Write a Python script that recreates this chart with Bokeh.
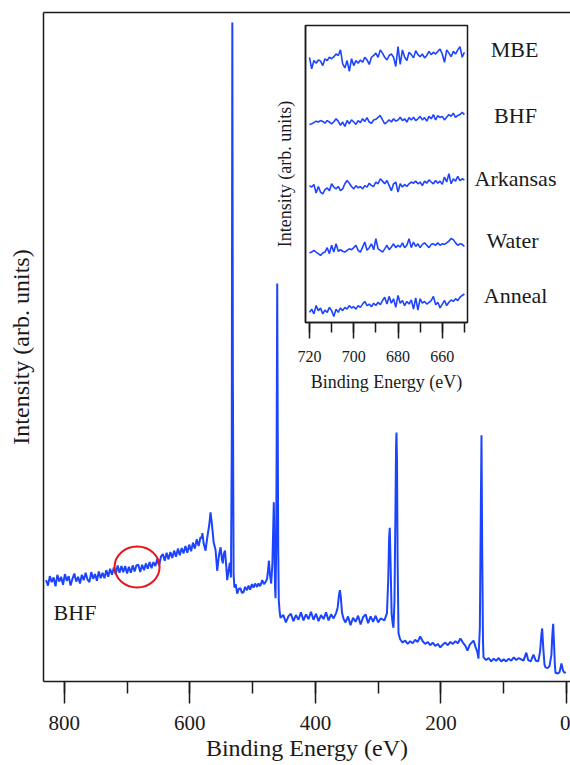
from bokeh.plotting import figure
from bokeh.models import Range1d, LinearAxis, FixedTicker, SingleIntervalTicker, GridBox
from bokeh.core.properties import value
from bokeh.embed import file_html
from bokeh.resources import INLINE

# ---------------- data: survey spectrum (binding energy eV, intensity arb.) ----------------
BE_MAIN = [
    829, 826, 823, 820, 817, 814, 811, 808, 805, 802, 799, 796, 793, 790, 787, 784, 781, 778, 775, 772,
    769, 766, 763, 760, 757, 754, 751, 748, 745, 742, 739, 736, 733, 730, 727, 724, 721, 718, 715, 712,
    709, 706, 703, 700, 697, 694, 691, 688, 685, 682, 679, 676, 673, 670, 667, 664, 661, 658, 655, 652,
    649, 646, 643, 640, 637, 634, 631, 628, 625, 622, 619, 616, 613, 610, 607, 604, 601, 598, 595, 592,
    589, 586, 583, 581, 580, 578, 575, 572, 569, 567, 565, 562, 559, 556.4, 553.5, 551, 549, 547.5, 546,
    544, 542, 540.5, 538.5, 536.3, 534.5, 533.2, 532.3, 531.4, 530.3, 529, 527, 524.5, 522, 519.3, 517,
    514.5, 512, 509, 506.5, 504, 501, 498.6, 496, 493, 490.6, 488, 484.7, 482, 479.5, 477, 475.5, 474,
    472.5, 470.4, 468.5, 467, 466.2, 465.2, 464.3, 463.5, 462.4, 461.5, 460.8, 460.0, 459.2, 458.3, 457,
    455.6, 451, 447, 443, 439, 435, 431, 427, 423, 419, 415, 411, 407, 403, 399, 395, 391, 387, 383, 379,
    375, 371, 367, 364.5, 362.5, 361, 359.5, 357.5, 355, 352, 348, 344, 340, 336, 332, 328, 324, 320, 316,
    312, 308, 304, 300, 296, 290, 286, 284, 282.5, 281.5, 280.3, 278.5, 276.8, 275.6, 274, 272.5, 271.5,
    270.8, 270, 269, 267.6, 265, 261, 257, 253, 249, 245, 241, 237, 233, 229, 225, 221, 217, 213, 209, 205,
    201, 197, 193, 189, 185, 181, 177, 173, 169, 165, 161, 157.7, 154, 150, 148, 145, 142, 140.2, 138,
    136.5, 135.4, 134.3, 133, 132.2, 128, 124, 120, 116, 112, 108, 104, 100, 96, 92, 88, 84, 80, 76, 72,
    68.5, 64, 61, 57, 52.6, 49, 45, 42, 40, 38.7, 37, 35, 33.4, 30, 27, 24, 22.5, 21.2, 20, 18.5, 17.5, 14,
    11, 8, 5.5, 3.2, 1,
]
I_MAIN = [
    15.1, 14.3, 15.7, 14.8, 15.5, 14.2, 15.9, 14.9, 15.6, 14.4, 16.0, 15.0, 15.7, 14.3, 15.3, 16.1, 14.9, 15.6, 14.6, 15.9,
    15.1, 16.2, 15.2, 14.8, 16.3, 15.3, 16.0, 15.0, 16.4, 15.4, 16.2, 15.4, 16.6, 15.6, 16.8, 15.9, 17.0, 16.0, 17.3, 16.2,
    17.2, 16.3, 17.2, 16.1, 17.1, 16.2, 17.3, 16.4, 17.3, 17.4, 16.3, 17.4, 16.6, 17.6, 16.8, 17.8, 16.9, 17.8, 17.2, 18.2,
    17.3, 18.6, 19.0, 18.0, 19.2, 18.2, 19.3, 18.4, 19.5, 18.6, 19.8, 18.8, 19.9, 19.1, 20.2, 19.2, 20.4, 19.4, 20.7, 19.8,
    21.2, 20.2, 21.5, 21.4, 22.1, 20.6, 19.5, 21.6, 23.4, 25.2, 23.6, 20.7, 19.6, 16.5, 18.9, 20.0, 18.3, 17.6, 19.0,
    19.5, 17.2, 15.1, 16.4, 17.7, 15.5, 35.0, 98.2, 45.0, 16.0, 14.0, 14.5, 13.1, 13.8, 13.9, 13.2,
    13.3, 14.1, 13.6, 14.3, 13.7, 14.5, 14.0, 14.6, 14.1, 14.6, 14.2, 15.1, 14.5, 14.8, 15.3, 16.5, 18.0,
    16.0, 14.6, 17.5, 23.5, 26.7, 20.0, 14.0, 12.4, 20.0, 40.0, 59.3, 38.0, 20.0, 12.1, 10.5,
    9.5, 9.9, 8.8, 9.7, 10.1, 9.0, 9.9, 9.2, 10.3, 9.1, 10.0, 9.3, 10.4, 9.2, 10.1, 9.0, 9.9, 9.3, 10.3, 9.1,
    10.0, 9.4, 10.2, 11.0, 12.8, 13.6, 12.6, 10.2, 9.3, 8.8, 9.7, 8.4, 9.5, 8.9, 9.8, 8.5, 9.6, 10.0, 8.7,
    9.7, 8.9, 9.8, 8.8, 9.4, 9.1, 10.2, 15.0, 21.5, 22.9, 18.0, 10.0, 8.6, 8.0, 12.0, 25.0, 35.0,
    37.1, 33.0, 18.0, 7.2, 6.3, 5.8, 6.1, 5.6, 6.0, 5.7, 6.2, 5.9, 6.7, 6.0, 5.6, 5.9, 5.4, 5.8, 5.3, 5.6,
    5.1, 5.5, 5.8, 5.4, 5.9, 5.6, 6.0, 5.7, 6.4, 5.8, 5.3, 4.6, 5.5, 5.9, 6.1, 5.2, 4.4, 3.4, 8.0,
    25.0, 36.7, 20.0, 6.0, 3.6, 3.2, 3.5, 3.0, 3.4, 3.1, 3.5, 3.0, 3.3, 3.0, 3.4, 3.1, 3.6, 3.2, 3.5, 3.3,
    3.1, 4.3, 3.2, 3.0, 4.0, 3.1, 3.0, 4.5, 7.0, 7.9, 5.0, 2.5, 2.1, 2.0, 2.3, 4.0, 7.0, 8.6, 6.0, 2.5, 1.3, 1.2,
    1.4, 2.7, 1.6, 1.3, 1.4,
]

# ---------------- data: inset (720-650 eV window, five samples, offset) ----------------
BE_INSET = [720 - k for k in range(71)]
MBE = [
    8.93, 8.54, 8.82, 8.73, 8.84, 8.80, 8.65, 8.88, 8.82, 8.93, 8.88, 8.95, 9.04, 8.99, 9.18, 8.71, 8.57, 8.82,
    8.46, 8.88, 8.65, 8.82, 8.73, 8.84, 8.76, 8.93, 8.84, 8.69, 8.93, 8.99, 9.07, 8.93, 9.18, 9.07, 8.93, 8.84,
    8.99, 9.04, 8.93, 8.62, 9.29, 8.69, 9.18, 8.93, 8.82, 9.10, 9.02, 8.91, 9.15, 9.02, 8.95, 9.04, 8.91, 8.99,
    9.13, 9.02, 9.10, 9.04, 9.13, 9.21, 9.04, 8.76, 9.18, 9.07, 8.95, 9.13, 9.04, 9.18, 9.29, 8.93, 9.10,
]
BHF = [
    6.67, 6.69, 6.73, 6.78, 6.75, 6.80, 6.77, 6.71, 6.80, 6.75, 6.69, 6.76, 6.86, 6.78, 6.64, 6.75, 6.60, 6.80,
    6.69, 6.82, 6.75, 6.67, 6.80, 6.73, 6.86, 6.77, 6.90, 6.75, 6.71, 6.82, 6.84, 6.91, 6.97, 6.82, 6.69, 6.75,
    6.82, 6.75, 6.86, 6.78, 6.82, 6.91, 6.80, 6.86, 6.75, 6.90, 6.82, 6.91, 6.80, 6.86, 6.94, 6.82, 6.90, 6.78,
    6.94, 6.86, 7.00, 6.82, 6.97, 6.90, 6.94, 6.82, 6.91, 7.00, 6.94, 7.05, 6.91, 6.97, 7.00, 7.08, 7.00,
]
ARKANSAS = [
    4.61, 4.56, 4.65, 4.36, 4.58, 4.39, 4.33, 4.47, 4.53, 4.44, 4.67, 4.56, 4.50, 4.58, 4.44, 4.50, 4.67, 4.78,
    4.69, 4.58, 4.50, 4.61, 4.53, 4.58, 4.50, 4.61, 4.56, 4.69, 4.61, 4.58, 4.73, 4.67, 4.84, 4.76, 4.67, 4.78,
    4.61, 4.44, 4.67, 4.73, 4.39, 4.67, 4.56, 4.65, 4.58, 4.67, 4.73, 4.69, 4.76, 4.67, 4.73, 4.61, 4.76, 4.69,
    4.80, 4.73, 4.67, 4.78, 4.69, 4.76, 4.65, 4.90, 4.73, 5.01, 4.67, 4.84, 4.76, 4.92, 4.78, 4.84, 4.80,
]
WATER = [
    2.34, 2.37, 2.43, 2.37, 2.32, 2.26, 2.34, 2.37, 2.52, 2.32, 2.60, 2.37, 2.65, 2.40, 2.45, 2.40, 2.37, 2.43,
    2.48, 2.45, 2.52, 2.60, 2.43, 2.37, 2.54, 2.71, 2.43, 2.52, 2.65, 2.45, 2.82, 2.48, 2.43, 2.37, 2.48, 2.60,
    2.45, 2.54, 2.65, 2.52, 2.60, 2.54, 2.68, 2.52, 2.60, 2.82, 2.52, 2.71, 2.56, 2.65, 2.52, 2.63, 2.68, 2.60,
    2.52, 2.63, 2.65, 2.60, 2.68, 2.60, 2.65, 2.63, 2.68, 2.74, 2.83, 2.79, 2.68, 2.60, 2.65, 2.63, 2.56,
]
ANNEAL = [
    0.34, 0.45, 0.29, 0.57, 0.40, 0.49, 0.29, 0.42, 0.34, 0.51, 0.40, 0.20, 0.45, 0.34, 0.49, 0.40, 0.51, 0.45,
    0.57, 0.49, 0.53, 0.45, 0.57, 0.51, 0.62, 0.71, 0.57, 0.62, 0.53, 0.65, 0.57, 0.68, 0.60, 0.74, 0.85, 0.62,
    0.88, 0.65, 0.80, 0.51, 0.91, 0.65, 0.74, 0.57, 0.71, 0.62, 0.76, 0.45, 0.83, 0.42, 0.80, 0.65, 0.71, 0.62,
    0.68, 0.74, 0.88, 0.60, 0.68, 0.49, 0.62, 0.74, 0.57, 0.68, 0.76, 0.71, 0.80, 0.74, 0.85, 0.91, 0.96,
]
INSET_SERIES = [MBE, BHF, ARKANSAS, WATER, ANNEAL]

# sample names (placed beside the inset, in main-plot data coordinates)
SAMPLE_LABELS = ["MBE", "BHF", "Arkansas", "Water", "Anneal"]
SAMPLE_LABEL_BE = [82.8, 81.2, 81.2, 86.0, 81.2]
SAMPLE_LABEL_I = [94.2, 84.4, 75.0, 65.7, 57.5]

# annotations
MAIN_NOTE = "BHF"
MAIN_NOTE_BE, MAIN_NOTE_I = 817.0, 10.3
CIRCLE_BE, CIRCLE_I = 684.0, 17.06

FONT = "Liberation Serif"
BLUE = "#1c44ff"
INK = "#1a1a1a"

# ---------------- main figure ----------------
p = figure(width=570, height=765, x_range=Range1d(833.1, -6.4), y_range=Range1d(0, 99.7),
           output_backend="svg", toolbar_location=None,
           min_border_left=43, min_border_right=0, min_border_top=12, min_border_bottom=84)
p.outline_line_color = None
p.grid.visible = False
p.background_fill_color = "white"

p.xaxis.ticker = SingleIntervalTicker(interval=200, num_minor_ticks=2)
p.xaxis.axis_label = "Binding Energy (eV)"
for ax in p.xaxis:
    ax.major_tick_out = 22
    ax.major_tick_in = 0
    ax.minor_tick_out = 12
    ax.minor_tick_in = 0
    ax.axis_line_width = 1.5
    ax.major_tick_line_width = 1.5
    ax.minor_tick_line_width = 1.5
    ax.axis_line_color = INK
    ax.major_tick_line_color = INK
    ax.minor_tick_line_color = INK
    ax.major_label_text_font = FONT
    ax.major_label_text_font_size = "21px"
    ax.major_label_text_color = INK
    ax.major_label_standoff = 12
    ax.axis_label_text_font = FONT
    ax.axis_label_text_font_size = "24px"
    ax.axis_label_text_font_style = "normal"
    ax.axis_label_text_color = INK
    ax.axis_label_standoff = 2

p.yaxis.ticker = FixedTicker(ticks=[])
p.yaxis.axis_label = "Intensity (arb. units)"
for ax in p.yaxis:
    ax.major_tick_out = 0
    ax.minor_tick_out = 0
    ax.major_label_text_font_size = "0px"
    ax.axis_line_width = 1.5
    ax.axis_line_color = INK
    ax.axis_label_text_font = FONT
    ax.axis_label_text_font_size = "24px"
    ax.axis_label_text_font_style = "normal"
    ax.axis_label_text_color = INK
    ax.axis_label_standoff = 10

top_axis = LinearAxis(ticker=FixedTicker(ticks=[]), major_tick_out=0, minor_tick_out=0,
                      major_label_text_font_size="0px", axis_line_width=1.5, axis_line_color=INK)
p.add_layout(top_axis, "above")

p.line(BE_MAIN, I_MAIN, line_color=BLUE, line_width=2)

p.ellipse(x=[CIRCLE_BE], y=[CIRCLE_I], width=45, height=41, width_units="screen", height_units="screen",
          fill_color=None, line_color="#e8141b", line_width=2)

p.text(x=[MAIN_NOTE_BE], y=[MAIN_NOTE_I], text=[MAIN_NOTE], text_font=value(FONT), text_font_size="22px",
       text_align="left", text_baseline="middle", text_color=INK)
p.text(x=SAMPLE_LABEL_BE, y=SAMPLE_LABEL_I, text=SAMPLE_LABELS, text_font=value(FONT), text_font_size="22px",
       text_align="center", text_baseline="middle", text_color=INK)

# ---------------- inset figure ----------------
q = figure(width=207, height=382, x_range=Range1d(721.8, 648.6), y_range=Range1d(0, 10),
           output_backend="svg", toolbar_location=None,
           min_border_left=40, min_border_right=5, min_border_top=5, min_border_bottom=80)
q.background_fill_color = None
q.border_fill_color = None
q.outline_line_color = INK
q.outline_line_width = 1.5
q.grid.visible = False

q.xaxis.ticker = SingleIntervalTicker(interval=20, num_minor_ticks=2)
q.xaxis.axis_label = "Binding Energy (eV)"
for ax in q.xaxis:
    ax.major_tick_out = 16
    ax.major_tick_in = 0
    ax.minor_tick_out = 10
    ax.minor_tick_in = 0
    ax.axis_line_width = 1.5
    ax.major_tick_line_width = 1.5
    ax.minor_tick_line_width = 1.5
    ax.axis_line_color = INK
    ax.major_tick_line_color = INK
    ax.minor_tick_line_color = INK
    ax.major_label_text_font = FONT
    ax.major_label_text_font_size = "16px"
    ax.major_label_text_color = INK
    ax.major_label_standoff = 12
    ax.axis_label_text_font = FONT
    ax.axis_label_text_font_size = "18px"
    ax.axis_label_text_font_style = "normal"
    ax.axis_label_text_color = INK
    ax.axis_label_standoff = 7

q.yaxis.ticker = FixedTicker(ticks=[])
q.yaxis.axis_label = "Intensity (arb. units)"
for ax in q.yaxis:
    ax.major_tick_out = 0
    ax.minor_tick_out = 0
    ax.major_label_text_font_size = "0px"
    ax.axis_line_width = 1.5
    ax.axis_line_color = INK
    ax.axis_label_text_font = FONT
    ax.axis_label_text_font_size = "18px"
    ax.axis_label_text_font_style = "normal"
    ax.axis_label_text_color = INK
    ax.axis_label_standoff = 11

for series in INSET_SERIES:
    q.line(BE_INSET, series, line_color=BLUE, line_width=1.6)

layout = GridBox(children=[(p, 0, 0, 3, 3), (q, 1, 1, 1, 1)],
                 rows=["20px", "382px", "auto"], cols=["265px", "207px", "auto"], spacing=0)

open("out.html", "w").write(file_html(layout, INLINE))
